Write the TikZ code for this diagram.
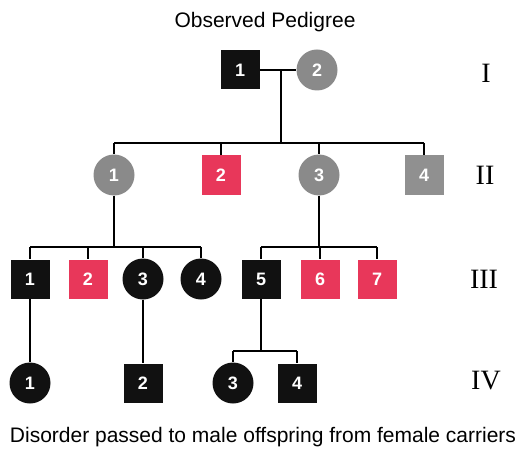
\documentclass[tikz,border=0pt]{standalone}
\usepackage{fontspec}
\setmainfont{Liberation Sans}
\newfontfamily\romanfont{Liberation Serif}
\definecolor{affblack}{HTML}{111111}
\definecolor{cargray}{HTML}{8A8A8A}
\definecolor{sqgray}{HTML}{909090}
\definecolor{normred}{HTML}{E8375A}
\begin{document}
\begin{tikzpicture}[x=1pt,y=-1pt,
  num/.style={text=white, inner sep=0pt, font=\fontsize{18}{18}\selectfont\bfseries},
  sq/.style={num, rectangle, minimum size=39pt},
  ci/.style={num, circle, minimum size=41pt},
  aff/.style={fill=affblack},
  car/.style={fill=cargray},
  gry/.style={fill=sqgray},
  nor/.style={fill=normred},
  link/.style={line width=1.7pt, draw=black},
  gen/.style={font=\romanfont\fontsize{28}{28}\selectfont, inner sep=0pt},
  captext/.style={font=\fontsize{21}{21}\selectfont, inner sep=0pt}
]
\useasboundingbox (0,0) rectangle (526,454);
\node[captext] (title) at (265,22) {Observed Pedigree};
\node[captext] (caption) at (263,437) {Disorder passed to male offspring from female carriers};
% generation labels
\node[gen] (gI) at (486,73) {I};
\node[gen] (gII) at (485,175) {II};
\node[gen] (gIII) at (484,279) {III};
\node[gen] (gIV) at (486,381) {IV};
% coordinates for lines
\coordinate (m1) at (281,70);
\coordinate (s1) at (281,143);
\coordinate (s2) at (114,247);
\coordinate (s3) at (261,351);
% individuals
\node[sq,aff] (I1) at (240,70) {1};
\node[ci,car] (I2) at (317,70) {2};
\node[ci,car] (II1) at (114,175) {1};
\node[sq,nor] (II2) at (221,175) {2};
\node[ci,car] (II3) at (319,175) {3};
\node[sq,gry] (II4) at (424,175) {4};
\node[sq,aff] (III1) at (30,279) {1};
\node[sq,nor] (III2) at (88,279) {2};
\node[ci,aff] (III3) at (143,279) {3};
\node[ci,aff] (III4) at (201,279) {4};
\node[sq,aff] (III5) at (261,279) {5};
\node[sq,nor] (III6) at (320,279) {6};
\node[sq,nor] (III7) at (377,279) {7};
\node[ci,aff] (IV1) at (30,383) {1};
\node[sq,aff] (IV2) at (143,383) {2};
\node[ci,aff] (IV3) at (233,383) {3};
\node[sq,aff] (IV4) at (297,383) {4};
% generation I
\draw[link] (I1.east) -- (I2.west);
\draw[link] (m1) -- (s1);
\draw[link] (II1 |- s1) -- (II4 |- s1);
\foreach \n in {II1,II2,II3,II4} \draw[link] (\n |- s1) -- (\n.north);
% generation II -> III
\draw[link] (II1.south) -- (II1 |- s2);
\draw[link] (III1 |- s2) -- (III4 |- s2);
\foreach \n in {III1,III2,III3,III4} \draw[link] (\n |- s2) -- (\n.north);
\draw[link] (II3.south) -- (II3 |- s2);
\draw[link] (III5 |- s2) -- (III7 |- s2);
\foreach \n in {III5,III6,III7} \draw[link] (\n |- s2) -- (\n.north);
% generation III -> IV
\draw[link] (III1.south) -- (IV1.north);
\draw[link] (III3.south) -- (IV2.north);
\draw[link] (III5.south) -- (s3);
\draw[link] (IV3 |- s3) -- (IV4 |- s3);
\foreach \n in {IV3,IV4} \draw[link] (\n |- s3) -- (\n.north);
\end{tikzpicture}
\end{document}
